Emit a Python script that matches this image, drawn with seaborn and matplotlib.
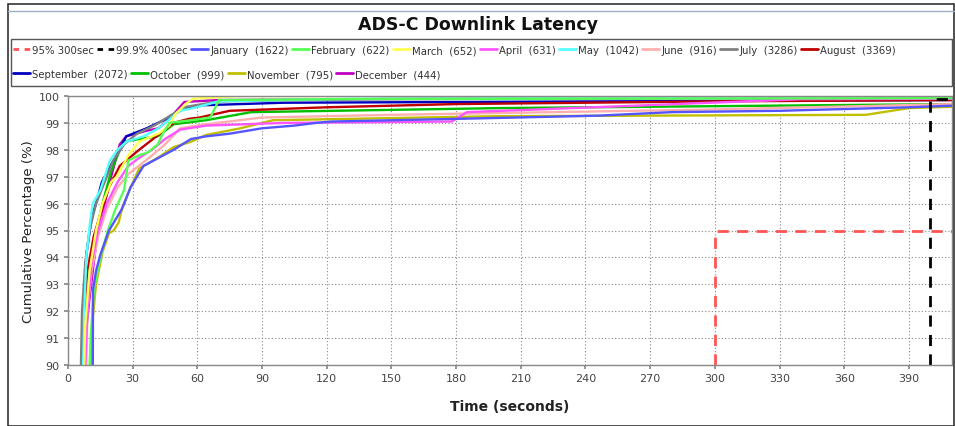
import seaborn as sns
import matplotlib.pyplot as plt
import pandas as pd
from matplotlib.lines import Line2D
from matplotlib.patches import Rectangle

sns.set_theme(style="white")
plt.rcParams['font.family'] = ['DejaVu Sans']

# month labels (with message counts) and colours
months = ["January  (1622)", "February  (622)", "March  (652)", "April  (631)",
          "May  (1042)", "June  (916)", "July  (3286)", "August  (3369)",
          "September  (2072)", "October  (999)", "November  (795)", "December  (444)"]
colors = ["#5555FF", "#55FF55", "#FFFF55", "#FF55FF", "#55FFFF", "#FFAFAF",
          "#808080", "#C00000", "#0000C0", "#00C000", "#C0C000", "#C000C0"]

# cumulative latency curves (seconds, percent)
jan_t = [11.5, 11.6, 13, 15, 19, 25, 29, 35, 42, 49, 57, 64, 75, 90, 105, 115, 122, 180, 246, 280, 330, 390, 410]
jan_p = [90, 92.8, 93.5, 94.1, 95.0, 95.8, 96.6, 97.4, 97.7, 98.0, 98.4, 98.5, 98.6, 98.8, 98.9, 99.0, 99.05, 99.15, 99.27, 99.4, 99.45, 99.58, 99.64]
feb_t = [10, 10.5, 12, 15, 18.5, 22, 26, 28, 33, 37, 41.6, 44, 47, 52, 57, 66, 70, 120, 250, 410]
feb_p = [90, 91, 92.8, 94.0, 95.0, 95.8, 96.5, 97.6, 97.8, 97.9, 98.2, 98.6, 99.0, 99.05, 99.1, 99.2, 99.85, 99.88, 99.9, 99.92]
mar_t = [7.5, 8, 10, 13, 16, 20, 22.6, 28, 33, 42, 47, 49.5, 54.5, 58, 80, 410]
mar_p = [90, 91.5, 93.5, 95.0, 96.0, 96.8, 97.0, 97.8, 98.3, 98.6, 98.9, 99.3, 99.7, 99.9, 100, 100]
apr_t = [8, 9, 11, 14, 18, 23, 28, 33, 39, 45, 52, 64, 100, 178, 185, 250, 340, 410]
apr_p = [90, 92, 93.8, 95.0, 96.0, 96.8, 97.4, 97.7, 98.0, 98.4, 98.75, 98.9, 99.0, 99.05, 99.4, 99.6, 99.88, 99.9]
may_t = [7, 7.5, 8.6, 10.2, 11.5, 15, 19.4, 23, 27, 35, 42, 48, 52, 58, 70, 130, 410]
may_p = [90, 92, 94.1, 95.3, 96.0, 96.5, 97.6, 98.0, 98.3, 98.5, 98.8, 99.2, 99.45, 99.55, 99.8, 99.9, 99.95]
jun_t = [8.5, 9, 11, 14, 18, 23, 28, 36, 45, 52, 64, 90, 150, 300, 410]
jun_p = [90, 92, 93.5, 94.8, 95.8, 96.6, 97.1, 97.6, 98.2, 98.8, 98.95, 99.2, 99.3, 99.5, 99.7]
jul_t = [6, 6.5, 8, 10, 13, 17, 21, 26, 32, 40, 48, 55, 70, 150, 300, 410]
jul_p = [90, 92, 93.8, 95.0, 96.0, 96.8, 97.6, 98.2, 98.6, 98.9, 99.3, 99.6, 99.8, 99.9, 99.95, 99.97]
aug_t = [7, 7.5, 9, 12, 15, 19, 24, 33, 41, 49, 56, 61, 75, 120, 180, 300, 410]
aug_p = [90, 92, 93.5, 94.8, 95.6, 96.6, 97.4, 98.0, 98.5, 99.0, 99.15, 99.2, 99.45, 99.58, 99.7, 99.8, 99.85]
sep_t = [6.5, 7, 8.5, 11, 13, 15.7, 19, 22.6, 27, 36.5, 47, 53, 60, 100, 250, 410]
sep_p = [90, 92, 94.1, 95.5, 96.0, 96.8, 97.3, 97.8, 98.5, 98.8, 99.2, 99.5, 99.65, 99.75, 99.8, 99.85]
oct_t = [8, 8.5, 10, 13, 16, 20, 25.6, 33, 41.6, 49, 64, 85, 200, 410]
oct_p = [90, 92, 93.6, 95.0, 96.0, 97.2, 98.3, 98.4, 98.5, 98.95, 99.1, 99.4, 99.55, 99.7]
nov_t = [10.8, 11.2, 13, 16, 19, 21.2, 23.5, 25, 29, 33, 41.6, 49, 57, 64, 80, 95, 200, 370, 390, 410]
nov_p = [90, 91.5, 93.0, 94.2, 94.9, 95.0, 95.3, 95.8, 96.6, 97.3, 97.7, 98.1, 98.3, 98.55, 98.8, 99.1, 99.25, 99.3, 99.55, 99.6]
dec_t = [7, 8, 10, 13, 17, 20, 24, 27, 36, 42, 47, 54, 70, 200, 410]
dec_p = [90, 91, 92.5, 94.5, 96.0, 97.0, 98.2, 98.5, 98.7, 98.8, 99.15, 99.78, 99.85, 99.9, 99.95]

# target lines
target_95 = ("95% 300sec", [300, 300, 410], [90, 95, 95], "#FF5555")
target_999 = ("99.9% 400sec", [400, 400, 410], [90, 99.9, 99.9], "black")

curves = [(jan_t, jan_p), (feb_t, feb_p), (mar_t, mar_p), (apr_t, apr_p), (may_t, may_p),
          (jun_t, jun_p), (jul_t, jul_p), (aug_t, aug_p), (sep_t, sep_p), (oct_t, oct_p),
          (nov_t, nov_p), (dec_t, dec_p)]

rows = []
for m, (ts, ps) in zip(months, curves):
    for t, p in zip(ts, ps):
        rows.append({"month": m, "t": t, "p": p})
df = pd.DataFrame(rows)

fig = plt.figure(figsize=(9.55, 4.27), dpi=100)
ax = fig.add_axes([68 / 955, 61 / 427, 884 / 955, 269 / 427])

sns.lineplot(data=df, x="t", y="p", hue="month", hue_order=months[::-1],
             palette=dict(zip(months, colors)), estimator=None, sort=False,
             linewidth=1.7, legend=False, ax=ax)

for name, xs, ys, c in [target_999, target_95]:
    ax.plot(xs, ys, color=c, linestyle=(0, (4, 3)), linewidth=2)

ax.set_xlim(0, 410)
ax.set_ylim(90, 100)
ax.set_xticks(range(0, 391, 30))
ax.set_yticks(range(90, 101))
ax.grid(True, color="#888888", linestyle=(0, (1, 2)), linewidth=0.8)
ax.tick_params(axis="both", labelsize=8, labelcolor="#444444", length=3, color="#888888",
               direction="out", left=True, bottom=True, pad=3)
for s in ax.spines.values():
    s.set_color("#888888")
    s.set_linewidth(1)
ax.set_xlabel("Time (seconds)", fontsize=10, fontweight="bold", color="#222222", labelpad=11)
ax.set_ylabel("Cumulative Percentage (%)", fontsize=9.5, color="#222222", labelpad=3)

# title
fig.text(0.5, 1 - 25 / 427, "ADS-C Downlink Latency", ha="center", va="center",
         fontsize=12.5, fontweight="bold", color="#111111")

# legend (two rows, row-major like the original)
def handle(c, ls="-"):
    return Line2D([], [], color=c, linewidth=2, linestyle=ls)

row1_h = [handle(target_95[3], (0, (2, 2))), handle(target_999[3], (0, (2, 2)))] + \
         [handle(c) for c in colors[:8]]
row1_l = [target_95[0], target_999[0]] + months[:8]
row2_h = [handle(c) for c in colors[8:]]
row2_l = months[8:]
kw = dict(frameon=False, fontsize=7.3, handlelength=1.7, handletextpad=0.2,
          columnspacing=0.3, borderpad=0, borderaxespad=0, labelcolor="#333333")
fig.legend(row1_h, row1_l, ncol=len(row1_h), loc="center left",
           bbox_to_anchor=(13 / 955, 1 - 51 / 427), **kw)
fig.legend(row2_h, row2_l, ncol=len(row2_h), loc="center left",
           bbox_to_anchor=(13 / 955, 1 - 75 / 427), **kw)

# frames
fig.patches.append(Rectangle((11 / 955, 1 - 87 / 427), 941 / 955, 47 / 427,
                             transform=fig.transFigure, fill=False,
                             edgecolor="#555555", linewidth=1))
fig.patches.append(Rectangle((8 / 955, 0.0), 946 / 955, 1 - 5 / 427,
                             transform=fig.transFigure, fill=False,
                             edgecolor="#333333", linewidth=1.2))
fig.lines.append(Line2D([8 / 955, 954 / 955], [1 - 12 / 427, 1 - 12 / 427],
                        transform=fig.transFigure, color="#9fb0c4", linewidth=1))

fig.savefig("out.png", dpi=100)
